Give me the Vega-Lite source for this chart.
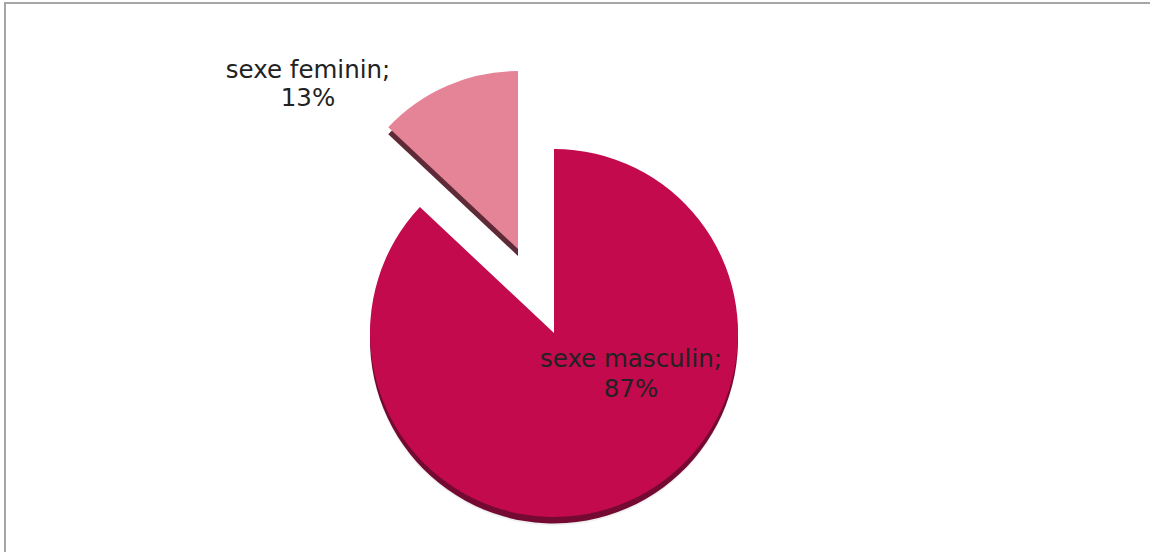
{
  "$schema": "https://vega.github.io/schema/vega-lite/v6.json",
  "width": 1150,
  "height": 552,
  "autosize": {"type": "fit", "contains": "padding"},
  "padding": {"left": 5, "top": 3, "right": -2, "bottom": -2},
  "background": "white",
  "view": {"stroke": "#a6a6a6", "strokeWidth": 2, "fill": "white"},
  "config": {"view": {"stroke": "#a6a6a6", "strokeWidth": 2}},
  "data": {
    "values": [
      {"sexe": "sexe masculin", "value": 87, "label": "sexe masculin;\n87%"},
      {"sexe": "sexe feminin", "value": 13, "label": "sexe feminin;\n13%"}
    ]
  },
  "transform": [
    {"stack": "value", "groupby": [], "sort": [{"field": "value", "order": "descending"}], "as": ["start", "end"]}
  ],
  "layer": [
    {
      "transform": [{"filter": "datum.sexe === 'sexe masculin'"}],
      "mark": {"type": "arc", "radius": 184, "color": "#000000", "opacity": 0.06, "xOffset": -24.5, "yOffset": 63},
      "encoding": {
        "theta": {"field": "start", "type": "quantitative", "scale": {"domain": [0, 100], "range": [0, 6.283185307]}},
        "theta2": {"field": "end"}
      }
    },
    {
      "transform": [{"filter": "datum.sexe === 'sexe masculin'"}],
      "mark": {"type": "arc", "radius": 184, "color": "#740a31", "xOffset": -24.5, "yOffset": 61},
      "encoding": {
        "theta": {"field": "start", "type": "quantitative", "scale": {"domain": [0, 100], "range": [0, 6.283185307]}},
        "theta2": {"field": "end"}
      }
    },
    {
      "transform": [{"filter": "datum.sexe === 'sexe masculin'"}],
      "mark": {"type": "arc", "radius": 184, "color": "#c20a4d", "xOffset": -24.5, "yOffset": 54.5},
      "encoding": {
        "theta": {"field": "start", "type": "quantitative", "scale": {"domain": [0, 100], "range": [0, 6.283185307]}},
        "theta2": {"field": "end"}
      }
    },
    {
      "transform": [{"filter": "datum.sexe === 'sexe feminin'"}],
      "mark": {"type": "arc", "radius": 178, "color": "#5e2a38", "xOffset": -60.5, "yOffset": -22.5},
      "encoding": {
        "theta": {"field": "start", "type": "quantitative", "scale": {"domain": [0, 100], "range": [0, 6.283185307]}},
        "theta2": {"field": "end"}
      }
    },
    {
      "transform": [{"filter": "datum.sexe === 'sexe feminin'"}],
      "mark": {"type": "arc", "radius": 178, "color": "#e48496", "xOffset": -60.5, "yOffset": -29.5},
      "encoding": {
        "theta": {"field": "start", "type": "quantitative", "scale": {"domain": [0, 100], "range": [0, 6.283185307]}},
        "theta2": {"field": "end"}
      }
    },
    {
      "transform": [{"filter": "datum.sexe === 'sexe masculin'"}],
      "mark": {"type": "text", "font": "DejaVu Sans", "fontSize": 24.5, "lineBreak": "\n", "lineHeight": 30, "align": "center", "baseline": "alphabetic", "color": "#222222", "dx": 52.5, "dy": 88.5},
      "encoding": {"text": {"field": "label"}}
    },
    {
      "transform": [{"filter": "datum.sexe === 'sexe feminin'"}],
      "mark": {"type": "text", "font": "DejaVu Sans", "fontSize": 24.5, "lineBreak": "\n", "lineHeight": 28, "align": "center", "baseline": "alphabetic", "color": "#222222", "dx": -270.5, "dy": -200.5},
      "encoding": {"text": {"field": "label"}}
    }
  ]
}
